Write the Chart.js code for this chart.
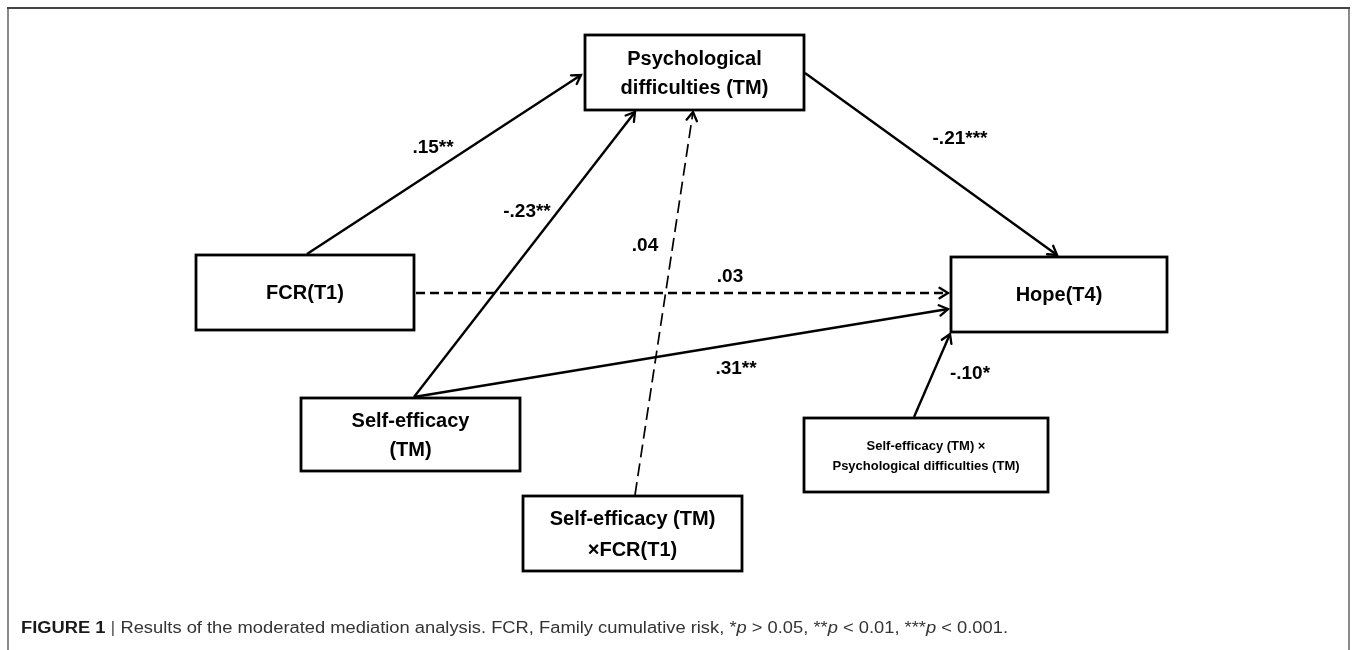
<!DOCTYPE html>
<html>
<head>
<meta charset="utf-8">
<script src="https://cdn.jsdelivr.net/npm/chart.js@4/dist/chart.umd.min.js"></script>
<style>
  html, body { margin: 0; padding: 0; background: #ffffff; }
  #wrap { width: 1358px; height: 650px; }
</style>
</head>
<body>
<div id="wrap"><canvas id="c" width="1358" height="650"></canvas></div>
<script>
// ---------- DATA ----------
const nodeNames = [
  ["Psychological", "difficulties (TM)"],
  ["FCR(T1)"],
  ["Hope(T4)"],
  ["Self-efficacy", "(TM)"],
  ["Self-efficacy (TM)", "\u00D7FCR(T1)"],
  ["Self-efficacy (TM) \u00D7", "Psychological difficulties (TM)"]
];
const pathFrom = [1, 0, 3, 4, 1, 3, 5];
const pathTo   = [0, 2, 0, 0, 2, 2, 2];
const pathCoefficients = [".15**", "-.21***", "-.23**", ".04", ".03", ".31**", "-.10*"];
const pathSignificant  = [true, true, true, false, false, true, true];
// caption pieces: [text, style]  (b = bold, n = normal, i = italic, s = separator)
const captionParts = [
  ["FIGURE 1 ", "b"], ["| ", "s"],
  ["Results of the moderated mediation analysis. FCR, Family cumulative risk, *", "n"],
  ["p", "i"], [" > 0.05, **", "n"], ["p", "i"], [" < 0.01, ***", "n"], ["p", "i"], [" < 0.001.", "n"]
];

// ---------- LAYOUT (diagram units) ----------
const nodeBoxes = [ // x0, y0, x1, y1
  [585, 35, 804, 110],
  [196, 255, 414, 330],
  [951, 257, 1167, 332],
  [301, 398, 520, 471],
  [523, 496, 742, 571],
  [804, 418, 1048, 492]
];
const nodeFontSize = [20, 20, 20, 20, 20, 13];
const nodeLineGap  = [29, 0, 0, 29, 31, 20];
const pathStart = [[307, 254], [805, 73], [414, 397], [635, 495], [416, 293], [414, 397], [914, 417]];
const pathEnd   = [[581, 75], [1057, 255], [635, 112], [693, 112], [948, 293], [948, 309], [950, 334]];
const labelPos  = [[433, 148], [960, 139], [527, 212], [645, 246], [730, 277], [736, 369], [970, 374]];

const datasets = pathStart.map((s, i) => ({
  label: pathCoefficients[i],
  data: [{ x: s[0], y: s[1] }, { x: pathEnd[i][0], y: pathEnd[i][1] }],
  showLine: true,
  borderColor: '#000',
  borderWidth: i === 3 ? 1.7 : 2.4,
  borderDash: pathSignificant[i] ? [] : (i === 3 ? [13, 6] : [9, 5]),
  pointRadius: 0,
  fill: false,
  tension: 0
}));

const FONT = '"Liberation Sans", Arial, sans-serif';

const diagramPlugin = {
  id: 'diagram',
  beforeDatasetsDraw(chart) {
    const ctx = chart.ctx;
    ctx.save();
    ctx.fillStyle = '#fff';
    ctx.fillRect(0, 0, chart.width, chart.height);
    ctx.lineWidth = 2;
    ctx.strokeStyle = '#8a8a8a';
    ctx.beginPath();
    ctx.moveTo(8, 650); ctx.lineTo(8, 8);
    ctx.moveTo(1349, 8); ctx.lineTo(1349, 650);
    ctx.stroke();
    ctx.strokeStyle = '#444';
    ctx.beginPath();
    ctx.moveTo(7, 8); ctx.lineTo(1350, 8);
    ctx.stroke();
    ctx.restore();
  },
  afterDatasetsDraw(chart) {
    const ctx = chart.ctx;
    const xs = chart.scales.x, ys = chart.scales.y;
    const px = v => xs.getPixelForValue(v);
    const py = v => ys.getPixelForValue(v);
    ctx.save();
    // arrow heads
    ctx.strokeStyle = '#000';
    ctx.lineWidth = 2.3;
    ctx.lineCap = 'round';
    pathStart.forEach((s, i) => {
      const ex = px(pathEnd[i][0]), ey = py(pathEnd[i][1]);
      const sx = px(s[0]), sy = py(s[1]);
      const a = Math.atan2(ey - sy, ex - sx);
      const L = 10, spread = 0.55;
      ctx.beginPath();
      ctx.moveTo(ex - L * Math.cos(a - spread), ey - L * Math.sin(a - spread));
      ctx.lineTo(ex, ey);
      ctx.lineTo(ex - L * Math.cos(a + spread), ey - L * Math.sin(a + spread));
      ctx.stroke();
    });
    ctx.lineCap = 'butt';
    // boxes
    nodeBoxes.forEach((b, i) => {
      const x0 = px(b[0]), y0 = py(b[1]), x1 = px(b[2]), y1 = py(b[3]);
      ctx.fillStyle = '#fff';
      ctx.fillRect(x0, y0, x1 - x0, y1 - y0);
      ctx.strokeStyle = '#000';
      ctx.lineWidth = 2.8;
      ctx.strokeRect(x0, y0, x1 - x0, y1 - y0);
      ctx.fillStyle = '#000';
      ctx.textAlign = 'center';
      ctx.textBaseline = 'middle';
      ctx.font = 'bold ' + nodeFontSize[i] + 'px ' + FONT;
      const lines = nodeNames[i];
      const cx = (x0 + x1) / 2, cy = (y0 + y1) / 2;
      const gap = nodeLineGap[i];
      const top = cy - gap * (lines.length - 1) / 2;
      lines.forEach((t, k) => ctx.fillText(t, cx, top + k * gap + 1));
    });
    // coefficient labels
    ctx.font = 'bold 19px ' + FONT;
    ctx.fillStyle = '#000';
    ctx.textAlign = 'center';
    ctx.textBaseline = 'middle';
    pathCoefficients.forEach((t, i) => {
      ctx.fillText(t, px(labelPos[i][0]), py(labelPos[i][1]));
    });
    // caption
    const capFont = '"Liberation Sans Narrow", "Liberation Sans", Arial, sans-serif';
    const fontFor = st => (st === 'b' ? 'bold ' : st === 'i' ? 'italic ' : '') + '16px ' + capFont;
    let total = 0;
    const widths = captionParts.map(([t, st]) => { ctx.font = fontFor(st); const w = ctx.measureText(t).width; total += w; return w; });
    const sc = (1008 - 21) / total;
    ctx.textAlign = 'left';
    ctx.textBaseline = 'middle';
    ctx.translate(21, 629);
    ctx.scale(sc, 1);
    let x = 0;
    captionParts.forEach(([t, st], k) => {
      ctx.font = fontFor(st);
      ctx.fillStyle = st === 'b' ? '#1a1a1a' : st === 's' ? '#555' : '#333';
      ctx.fillText(t, x, 0);
      x += widths[k];
    });
    ctx.restore();
  }
};

new Chart(document.getElementById('c'), {
  type: 'scatter',
  data: { datasets },
  options: {
    responsive: false,
    animation: false,
    layout: { padding: 0 },
    plugins: { legend: { display: false }, tooltip: { enabled: false }, title: { display: false } },
    scales: {
      x: { type: 'linear', min: 0, max: 1358, display: false },
      y: { type: 'linear', min: 0, max: 650, reverse: true, display: false }
    }
  },
  plugins: [diagramPlugin]
});
</script>
</body>
</html>
